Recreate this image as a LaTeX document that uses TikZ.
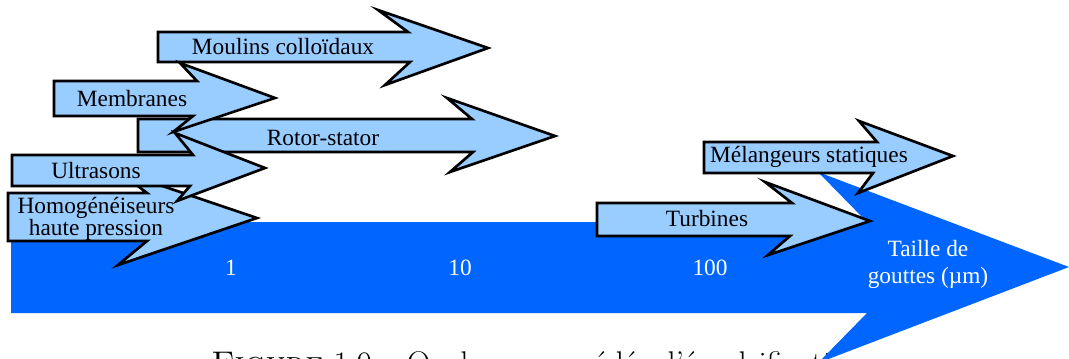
\documentclass[tikz,border=0pt]{standalone}
\usepackage{fontspec}
\newfontfamily\tnr{Liberation Serif}
\definecolor{lightarrow}{HTML}{99CCFF}
\definecolor{bigblue}{HTML}{0066FF}
\tikzset{
  blockarrow/.style={draw=black, fill=lightarrow, line width=2pt, line join=miter},
  bigarrow/.style={fill=bigblue, draw=none},
  lbl/.style={font=\tnr\fontsize{17.5}{20}\selectfont, inner sep=0pt, text=black},
  wlbl/.style={font=\tnr\fontsize{17.5}{20}\selectfont, inner sep=0pt, text=white, align=center},
}
\begin{document}
\begin{tikzpicture}[x=0.75pt,y=-0.75pt]
\useasboundingbox (0,0) rectangle (1069,358);
% caption (cut off by the page edge)
\node[anchor=base west, inner sep=0pt, font=\fontsize{24.6}{28}\selectfont] (cap) at (211,374.5)
  {\textsc{Figure} 1.9 -- Quelques procédés d'émulsification};
% big arrow
\path[bigarrow] (11,222) -- (867,222) -- (818,172) -- (1069,267) -- (818,363) -- (867,313) -- (11,313) -- cycle;
\node[wlbl] (t1) at (231,268) {1};
\node[wlbl] (t10) at (460,268) {10};
\node[wlbl] (t100) at (710,268) {100};
\node[wlbl, font=\tnr\fontsize{17.5}{20.3}\selectfont] (taille) at (928,264) {Taille de\\gouttes (µm)};
% Rotor-stator
\path[blockarrow] (138,119) -- (472,119) -- (447,98) -- (555,136) -- (450,172) -- (473,152) -- (138,152) -- cycle;
\node[lbl] (rotor) at (323,138) {Rotor-stator};
% Moulins colloidaux
\path[blockarrow] (158,32) -- (408,32) -- (378,10) -- (488,48) -- (385,85) -- (410,62) -- (158,62) -- cycle;
\node[lbl] (moulins) at (283,47) {Moulins colloïdaux};
% Membranes
\path[blockarrow] (54,81) -- (197,81) -- (180,63) -- (275,98) -- (173,132) -- (193,116) -- (54,116) -- cycle;
\node[lbl] (membranes) at (132,99) {Membranes};
% Homogeneiseurs
\path[blockarrow] (8,193) -- (147,193) -- (118,171) -- (257,218) -- (118,265) -- (147,241) -- (8,241) -- cycle;
\node[lbl, align=center, font=\tnr\fontsize{17.5}{14}\selectfont] (homog) at (96,219) {Homogénéiseurs\\haute pression};
% Ultrasons
\path[blockarrow] (12,155) -- (193,155) -- (175,133) -- (265,168) -- (177,201) -- (190,186) -- (12,186) -- cycle;
\node[lbl] (ultra) at (96,171) {Ultrasons};
% Turbines
\path[blockarrow] (597,203) -- (792,203) -- (765,182) -- (870,221) -- (768,255) -- (790,236) -- (597,236) -- cycle;
\node[lbl] (turb) at (707,219) {Turbines};
% Melangeurs statiques
\path[blockarrow] (704,142) -- (877,142) -- (859,121) -- (953,156) -- (858,193) -- (873,173) -- (704,173) -- cycle;
\node[lbl] (melang) at (809,157) {Mélangeurs statiques};
\end{tikzpicture}
\end{document}
